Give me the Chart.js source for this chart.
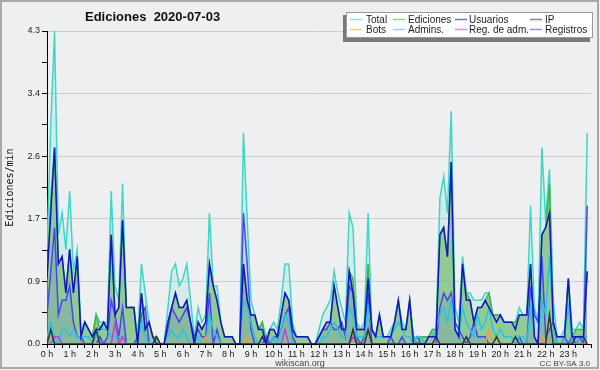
<!DOCTYPE html>
<html>
<head>
<meta charset="utf-8">
<script src="https://cdn.jsdelivr.net/npm/chart.js@4.4.0/dist/chart.umd.min.js"></script>
<style>
  html, body { margin: 0; padding: 0; background: #eeeff1; }
  #grafico { display: block; }
</style>
</head>
<body>
<canvas id="grafico" width="600" height="370"></canvas>
<script>
// ranuras de 10 minutos (0..143)
var slots = Array.from({ length: 144 }, (_, i) => i);

var etiquetasHora = ['0 h', '1 h', '2 h', '3 h', '4 h', '5 h', '6 h', '7 h', '8 h', '9 h', '10 h', '11 h',
    '12 h', '13 h', '14 h', '15 h', '16 h', '17 h', '18 h', '19 h', '20 h', '21 h', '22 h', '23 h'];
var etiquetasY = ['0.0', '0.9', '1.7', '2.6', '3.4', '4.3'];

// ediciones/min, una fila por hora
var total = [
    1.3, 3.0, 4.3, 1.5, 1.8, 1.3,   2.1, 1.0, 1.3, 0.2, 0.3, 0.2,
    0.1, 0.4, 0.3, 0.3, 0.3, 2.1,   0.8, 0.6, 2.2, 0.5, 0.5, 0.5,
    0.1, 1.1, 0.7, 0.3, 0.1, 0.1,   0.0, 0.0, 0.5, 1.0, 1.1, 0.8,
    0.9, 1.1, 0.6, 0.1, 0.5, 0.3,   0.4, 1.8, 0.8, 0.8, 0.3, 0.1,
    0.1, 0.1, 0.0, 0.0, 2.9, 1.7,   0.6, 0.4, 0.2, 0.3, 0.1, 0.2,
    0.3, 0.2, 0.6, 1.1, 1.1, 0.3,   0.1, 0.1, 0.1, 0.1, 0.0, 0.0,
    0.2, 0.4, 0.5, 0.6, 1.0, 0.7,   0.5, 0.3, 1.8, 1.6, 0.3, 0.2,
    0.3, 1.8, 0.2, 0.1, 0.4, 0.1,   0.1, 0.2, 0.3, 0.6, 0.3, 0.2,
    0.6, 0.1, 0.1, 0.1, 0.1, 0.1,   0.2, 0.2, 2.0, 2.3, 1.8, 3.2,
    0.5, 0.3, 1.2, 0.7, 0.7, 0.6,   0.6, 0.6, 0.7, 0.7, 0.4, 0.4,
    0.4, 0.3, 0.3, 0.3, 0.3, 0.5,   0.4, 0.4, 1.9, 0.5, 0.3, 2.7,
    1.7, 2.4, 0.6, 0.1, 0.1, 0.2,   0.9, 0.2, 0.2, 0.3, 0.2, 2.9
];
var ediciones = [
    0.9, 2.0, 2.7, 1.1, 1.2, 0.7,   1.3, 0.7, 1.2, 0.1, 0.3, 0.2,
    0.1, 0.4, 0.2, 0.3, 0.2, 1.5,   0.4, 0.5, 1.7, 0.5, 0.5, 0.5,
    0.0, 0.7, 0.2, 0.3, 0.1, 0.1,   0.0, 0.0, 0.3, 0.5, 0.7, 0.5,
    0.5, 0.6, 0.3, 0.0, 0.3, 0.2,   0.3, 1.1, 0.8, 0.6, 0.3, 0.1,
    0.1, 0.1, 0.0, 0.0, 1.1, 0.6,   0.4, 0.4, 0.2, 0.3, 0.0, 0.2,
    0.2, 0.1, 0.4, 0.7, 0.6, 0.2,   0.1, 0.1, 0.1, 0.1, 0.0, 0.0,
    0.1, 0.2, 0.3, 0.3, 0.8, 0.5,   0.2, 0.2, 1.0, 0.9, 0.2, 0.2,
    0.2, 1.1, 0.2, 0.1, 0.4, 0.1,   0.1, 0.1, 0.3, 0.6, 0.2, 0.2,
    0.6, 0.1, 0.0, 0.1, 0.1, 0.1,   0.2, 0.2, 1.5, 1.6, 1.2, 2.5,
    0.2, 0.1, 1.1, 0.7, 0.6, 0.3,   0.5, 0.5, 0.6, 0.7, 0.4, 0.4,
    0.4, 0.3, 0.3, 0.3, 0.3, 0.4,   0.4, 0.4, 1.1, 0.1, 0.0, 1.5,
    1.6, 2.2, 0.3, 0.1, 0.1, 0.1,   0.9, 0.1, 0.2, 0.2, 0.2, 1.0
];
var usuarios = [
    0.9, 1.8, 2.7, 1.1, 1.2, 0.7,   1.3, 0.7, 1.2, 0.1, 0.3, 0.2,
    0.1, 0.2, 0.2, 0.3, 0.2, 1.5,   0.4, 0.5, 1.7, 0.5, 0.5, 0.5,
    0.0, 0.7, 0.2, 0.3, 0.1, 0.0,   0.0, 0.0, 0.3, 0.5, 0.7, 0.5,
    0.5, 0.6, 0.3, 0.0, 0.3, 0.2,   0.3, 1.1, 0.8, 0.6, 0.3, 0.1,
    0.1, 0.1, 0.0, 0.0, 1.1, 0.6,   0.4, 0.4, 0.2, 0.2, 0.0, 0.2,
    0.2, 0.1, 0.4, 0.7, 0.6, 0.2,   0.1, 0.1, 0.1, 0.1, 0.0, 0.0,
    0.1, 0.2, 0.3, 0.3, 0.8, 0.5,   0.2, 0.2, 1.0, 0.7, 0.2, 0.2,
    0.2, 0.9, 0.2, 0.1, 0.4, 0.1,   0.1, 0.1, 0.3, 0.6, 0.2, 0.2,
    0.6, 0.0, 0.0, 0.0, 0.0, 0.1,   0.1, 0.1, 1.5, 1.6, 1.2, 2.5,
    0.2, 0.1, 1.1, 0.6, 0.6, 0.3,   0.5, 0.5, 0.6, 0.5, 0.4, 0.3,
    0.4, 0.3, 0.3, 0.3, 0.2, 0.4,   0.4, 0.4, 1.1, 0.1, 0.0, 1.5,
    1.6, 1.8, 0.3, 0.1, 0.1, 0.1,   0.9, 0.1, 0.1, 0.1, 0.1, 1.0
];
var ip = [
    0, 0.2, 0, 0, 0, 0,   0, 0, 0, 0, 0, 0,
    0, 0.2, 0, 0, 0, 0,   0, 0, 0, 0, 0, 0,
    0, 0, 0, 0, 0, 0.1,   0, 0, 0, 0, 0, 0,
    0, 0, 0, 0, 0, 0,     0, 0, 0, 0, 0, 0,
    0, 0, 0, 0, 0, 0,     0, 0, 0, 0.1, 0, 0,
    0, 0, 0, 0, 0, 0,     0, 0, 0, 0, 0, 0,
    0, 0, 0, 0, 0, 0,     0, 0, 0, 0.2, 0, 0,
    0, 0.2, 0, 0, 0, 0,   0, 0, 0, 0, 0, 0,
    0, 0, 0, 0, 0, 0,     0, 0.1, 0, 0, 0, 0,
    0, 0, 0, 0.1, 0, 0,   0, 0, 0, 0, 0, 0.1,
    0, 0, 0, 0, 0.1, 0,   0, 0, 0, 0, 0, 0,
    0, 0.4, 0, 0, 0, 0,   0, 0, 0.1, 0.1, 0.1, 0
];
var bots = [
    0, 0, 0, 0, 0, 0,   0, 0, 0, 0, 0, 0,
    0, 0, 0, 0, 0, 0,   0, 0, 0, 0, 0, 0,
    0, 0, 0, 0, 0, 0,   0, 0, 0, 0, 0, 0,
    0, 0, 0, 0, 0, 0,   0.1, 0, 0, 0, 0, 0,
    0, 0, 0, 0, 0, 0.1, 0, 0, 0, 0, 0, 0,
    0, 0, 0, 0, 0, 0,   0, 0, 0, 0, 0, 0,
    0, 0, 0, 0, 0, 0,   0, 0, 0, 0, 0, 0,
    0, 0, 0, 0, 0, 0,   0, 0, 0, 0, 0, 0,
    0, 0, 0, 0, 0, 0,   0, 0, 0, 0, 0, 0,
    0, 0, 0, 0, 0, 0,   0, 0, 0, 0.2, 0, 0,
    0, 0, 0, 0, 0, 0,   0, 0, 0, 0, 0, 0.1,
    0, 0, 0, 0, 0, 0,   0, 0, 0, 0, 0, 0
];
var admins = [
    0.1, 0.3, 0.1, 0.0, 0.2, 0.2,   0.1, 0.2, 0.1, 0.1, 0.1, 0.1,
    0.0, 0.1, 0.2, 0.2, 0.2, 0.1,   0.1, 0.1, 0.1, 0.0, 0.0, 0.0,
    0.0, 0.3, 0.1, 0.0, 0.0, 0.0,   0.0, 0.0, 0.1, 0.2, 0.1, 0.1,
    0.2, 0.1, 0.0, 0.0, 0.1, 0.0,   0.0, 0.4, 0.2, 0.1, 0.0, 0.0,
    0.0, 0.0, 0.0, 0.0, 0.6, 0.5,   0.3, 0.1, 0.0, 0.1, 0.0, 0.0,
    0.1, 0.0, 0.2, 0.4, 0.3, 0.0,   0.0, 0.0, 0.0, 0.0, 0.0, 0.0,
    0.0, 0.1, 0.1, 0.2, 0.3, 0.2,   0.1, 0.1, 0.5, 0.4, 0.1, 0.1,
    0.1, 0.5, 0.2, 0.1, 0.1, 0.1,   0.1, 0.1, 0.2, 0.3, 0.2, 0.1,
    0.1, 0.0, 0.1, 0.1, 0.0, 0.1,   0.1, 0.2, 0.4, 0.5, 0.3, 0.6,
    0.2, 0.1, 0.5, 0.3, 0.2, 0.1,   0.4, 0.2, 0.3, 0.5, 0.2, 0.1,
    0.2, 0.1, 0.1, 0.1, 0.0, 0.1,   0.1, 0.0, 0.5, 0.1, 0.0, 0.6,
    0.4, 1.2, 0.3, 0.0, 0.0, 0.1,   0.5, 0.0, 0.0, 0.1, 0.1, 0.1
];
var regAdm = [
    0, 0, 0.1, 0.1, 0, 0,   0, 0, 0, 0, 0, 0,
    0, 0, 0, 0, 0, 0,       0.3, 0, 0.1, 0, 0, 0,
    0, 0, 0, 0, 0, 0,       0, 0, 0, 0, 0, 0,
    0, 0, 0, 0, 0, 0,       0, 0, 0, 0, 0, 0,
    0, 0, 0, 0, 0, 0,       0, 0, 0, 0, 0, 0,
    0, 0, 0, 0.2, 0, 0,     0, 0, 0, 0, 0, 0,
    0, 0, 0, 0, 0, 0,       0, 0, 0, 0.1, 0, 0,
    0, 0, 0, 0, 0, 0,       0, 0, 0, 0, 0, 0,
    0, 0, 0, 0, 0, 0,       0, 0, 0, 0, 0, 0,
    0, 0, 0, 0, 0, 0,       0, 0, 0, 0, 0, 0,
    0, 0, 0, 0, 0, 0,       0, 0, 0, 0, 0, 0,
    0, 0, 0, 0, 0, 0,       0, 0, 0, 0, 0, 0
];
var registros = [
    0.4, 1.0, 1.6, 0.4, 0.6, 0.6,   0.8, 0.3, 0.1, 0.1, 0.0, 0.0,
    0.0, 0.0, 0.1, 0.0, 0.1, 0.6,   0.4, 0.1, 0.5, 0.0, 0.0, 0.0,
    0.1, 0.4, 0.5, 0.0, 0.0, 0.0,   0.0, 0.0, 0.2, 0.5, 0.4, 0.3,
    0.4, 0.5, 0.3, 0.1, 0.2, 0.1,   0.1, 0.7, 0.0, 0.2, 0.0, 0.0,
    0.0, 0.0, 0.0, 0.0, 1.8, 1.1,   0.2, 0.0, 0.0, 0.0, 0.1, 0.0,
    0.1, 0.1, 0.2, 0.4, 0.5, 0.1,   0.0, 0.0, 0.0, 0.0, 0.0, 0.0,
    0.1, 0.2, 0.2, 0.3, 0.2, 0.2,   0.3, 0.1, 0.8, 0.7, 0.1, 0.0,
    0.1, 0.7, 0.0, 0.0, 0.0, 0.0,   0.0, 0.1, 0.0, 0.0, 0.1, 0.0,
    0.0, 0.0, 0.1, 0.0, 0.0, 0.0,   0.0, 0.0, 0.5, 0.7, 0.6, 0.7,
    0.3, 0.2, 0.1, 0.0, 0.1, 0.3,   0.1, 0.1, 0.1, 0.0, 0.0, 0.0,
    0.0, 0.0, 0.0, 0.0, 0.0, 0.1,   0.0, 0.0, 0.8, 0.4, 0.3, 1.2,
    0.1, 0.2, 0.3, 0.0, 0.0, 0.1,   0.0, 0.1, 0.0, 0.1, 0.0, 1.9
];

function serie(nombre, valores, color, extra) {
    return Object.assign({
        label: nombre,
        data: valores.map((v, i) => ({ x: slots[i], y: v })),
        borderColor: color,
        borderWidth: 1.5,
        pointRadius: 0,
        tension: 0,
        fill: false
    }, extra);
}

// orden de la leyenda: fila 1 y fila 2
var series = [
    serie('Total', total, '#3ed6c6', { order: 10, fill: 'origin', backgroundColor: 'rgba(62,214,198,0.15)' }),
    serie('Ediciones', ediciones, '#44b444', { order: 9, fill: 'origin', backgroundColor: 'rgba(110,185,105,0.65)' }),
    serie('Usuarios', usuarios, '#1414c8', { order: 1 }),
    serie('IP', ip, '#333333', { order: 3 }),
    serie('Bots', bots, '#f0a030', { order: 5 }),
    serie('Admins.', admins, '#28c4e0', { order: 6 }),
    serie('Reg. de adm.', regAdm, '#c040e0', { order: 4 }),
    serie('Registros', registros, '#4646f2', { order: 8, fill: 'origin', backgroundColor: 'rgba(60,60,220,0.12)' })
];

var fuente = 'Liberation Sans';
Chart.defaults.font.family = fuente;

var decorado = {
    id: 'decorado',
    afterDraw(chart) {
        var ctx = chart.ctx;
        ctx.save();
        // marco
        ctx.strokeStyle = '#a9a9a9';
        ctx.lineWidth = 2;
        ctx.strokeRect(1, 1, 597, 367);
        // titulo
        ctx.fillStyle = '#111';
        ctx.font = 'bold 13px "' + fuente + '"';
        ctx.textBaseline = 'alphabetic';
        ctx.textAlign = 'left';
        ctx.fillText('Ediciones  2020-07-03', 85, 21);
        // pie
        ctx.fillStyle = '#444';
        ctx.font = '9px "' + fuente + '"';
        ctx.textAlign = 'center';
        ctx.fillText('wikiscan.org', 300, 366);
        ctx.font = '8px "' + fuente + '"';
        ctx.textAlign = 'right';
        ctx.fillText('CC BY-SA 3.0', 590, 366);
        // leyenda
        ctx.fillStyle = '#7a7a7a';
        ctx.fillRect(343, 15, 247, 27);
        ctx.fillStyle = '#ffffff';
        ctx.fillRect(346, 12, 247, 26);
        ctx.strokeStyle = '#9a9a9a';
        ctx.lineWidth = 1;
        ctx.strokeRect(346.5, 12.5, 246, 25);
        var xLinea = [350, 393, 455, 530];
        var xTexto = [366, 408, 469, 545];
        var yFila = [19, 29];
        ctx.font = '10px "' + fuente + '"';
        ctx.textAlign = 'left';
        chart.data.datasets.forEach(function (ds, i) {
            var col = i % 4, fila = Math.floor(i / 4);
            ctx.globalAlpha = 0.6;
            ctx.strokeStyle = ds.borderColor;
            ctx.lineWidth = 1.5;
            ctx.beginPath();
            ctx.moveTo(xLinea[col], yFila[fila] + 0.5);
            ctx.lineTo(xLinea[col] + 12, yFila[fila] + 0.5);
            ctx.stroke();
            ctx.globalAlpha = 1;
            ctx.fillStyle = '#222';
            ctx.fillText(ds.label, xTexto[col], yFila[fila] + 3.5);
        });
        ctx.restore();
    }
};

var grafico = new Chart(document.getElementById('grafico'), {
    type: 'line',
    data: { datasets: series },
    options: {
        responsive: false,
        animation: false,
        layout: { padding: { left: 0, right: 9, top: 31, bottom: 0 } },
        plugins: {
            legend: { display: false },
            tooltip: { enabled: false }
        },
        scales: {
            x: {
                type: 'linear',
                min: 0,
                max: 144,
                z: 1,
                afterBuildTicks: function (s) {
                    s.ticks = [];
                    for (var v = 0; v <= 144; v += 2) s.ticks.push({ value: v });
                },
                afterFit: function (s) { s.height = 26; },
                grid: { drawOnChartArea: false, color: '#000', tickLength: 4 },
                border: { color: '#000', width: 1 },
                ticks: {
                    autoSkip: false,
                    maxRotation: 0,
                    padding: 1,
                    color: '#222',
                    font: { size: 9 },
                    callback: function (v) {
                        return (v % 6 === 0 && v < 144) ? etiquetasHora[v / 6] : '';
                    }
                }
            },
            y: {
                min: 0,
                max: 4.3,
                afterBuildTicks: function (s) {
                    s.ticks = [];
                    for (var k = 0; k <= 10; k++) s.ticks.push({ value: k * 0.43 });
                },
                afterFit: function (s) { s.width = 47; },
                grid: {
                    color: function (c) { return c.index % 2 === 0 ? '#cdcdcd' : 'rgba(0,0,0,0)'; },
                    tickColor: '#000',
                    tickLength: 5
                },
                border: { color: '#000', width: 1 },
                ticks: {
                    autoSkip: false,
                    padding: 2,
                    color: '#222',
                    font: { size: 9 },
                    callback: function (v, i) { return i % 2 === 0 ? etiquetasY[i / 2] : ''; }
                },
                title: {
                    display: true,
                    text: 'Ediciones/min',
                    color: '#111',
                    font: { family: 'DejaVu Sans Mono', size: 10 },
                    padding: { top: 4, bottom: 0 }
                }
            }
        }
    },
    plugins: [decorado]
});
</script>
</body>
</html>
